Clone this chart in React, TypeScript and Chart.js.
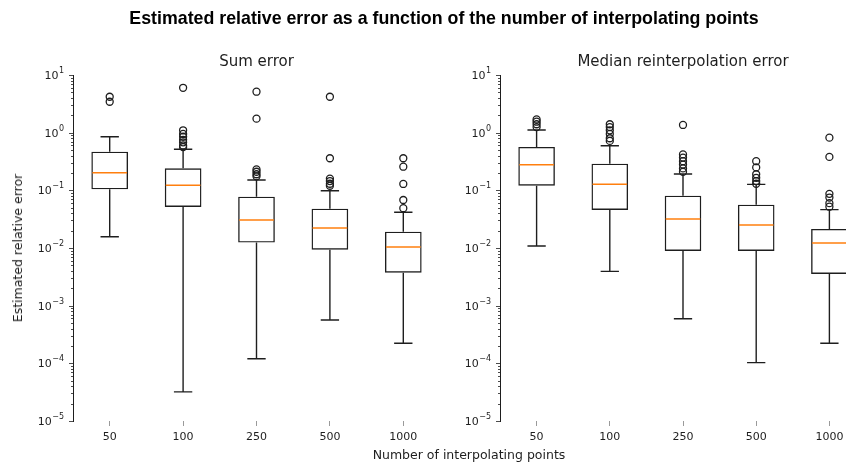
import React, { useEffect, useRef } from 'react';
import { Chart, registerables } from 'chart.js';

Chart.register(...registerables);

const categories = ['50', '100', '250', '500', '1000'];
const yTickValues = [1e-5, 1e-4, 1e-3, 1e-2, 1e-1, 1, 10];

// Panel 1: Sum error
const sumQ1 = [0.104, 0.0514, 0.0124, 0.00935, 0.00373];
const sumMedian = [0.202, 0.122, 0.0306, 0.0222, 0.0104];
const sumQ3 = [0.468, 0.241, 0.0776, 0.0481, 0.0192];
const sumWhiskerLow = [0.0157, 3.2e-5, 1.2e-4, 5.65e-4, 2.23e-4];
const sumWhiskerHigh = [0.851, 0.515, 0.151, 0.0986, 0.0416];
const sumFliers50 = [4.2, 3.44];
const sumFliers100 = [6.0, 1.1, 0.95, 0.85, 0.75, 0.68, 0.6, 0.56];
const sumFliers250 = [5.13, 1.75, 0.23, 0.21, 0.19, 0.175];
const sumFliers500 = [4.2, 0.36, 0.16, 0.145, 0.13, 0.12];
const sumFliers1000 = [0.36, 0.257, 0.129, 0.068, 0.049];

// Panel 2: Median reinterpolation error
const medQ1 = [0.12, 0.0456, 0.00887, 0.00887, 0.00354];
const medMedian = [0.279, 0.127, 0.0318, 0.0251, 0.0122];
const medQ3 = [0.565, 0.29, 0.0807, 0.0564, 0.0214];
const medWhiskerLow = [0.0108, 0.00394, 5.94e-4, 1.03e-4, 2.23e-4];
const medWhiskerHigh = [1.11, 0.594, 0.192, 0.127, 0.0462];
const medFliers50 = [1.7, 1.55, 1.4, 1.25];
const medFliers100 = [1.4, 1.25, 1.1, 0.95, 0.8, 0.72];
const medFliers250 = [1.36, 0.42, 0.37, 0.32, 0.28, 0.24, 0.21];
const medFliers500 = [0.32, 0.25, 0.19, 0.165, 0.145, 0.13];
const medFliers1000 = [0.82, 0.38, 0.087, 0.075, 0.06, 0.052];

const FONT = "'DejaVu Sans', sans-serif";
const INK = '#1e1e1e';

const boxPlugin = {
  id: 'boxWhiskers',
  afterDatasetsDraw(chart: any, _args: any, opts: any) {
    const { ctx, scales, chartArea } = chart;
    const x = scales.x;
    const y = scales.y;
    const meta = chart.getDatasetMeta(0);
    ctx.save();
    // y minor/major tick marks
    ctx.strokeStyle = INK;
    ctx.lineWidth = 0.8;
    for (let d = -5; d <= 1; d++) {
      for (let k = 1; k <= 9; k++) {
        const v = k * Math.pow(10, d);
        if (v > 10.0001) break;
        const py = Math.round(y.getPixelForValue(v)) + 0.5;
        const len = k === 1 ? 4 : 2;
        ctx.beginPath();
        ctx.moveTo(chartArea.left - len, py);
        ctx.lineTo(chartArea.left, py);
        ctx.stroke();
      }
    }
    // y tick labels as 10 with superscript exponent
    ctx.fillStyle = INK;
    ctx.textBaseline = 'middle';
    yTickValues.forEach((v) => {
      const e = String(Math.round(Math.log10(v))).replace('-', '\u2212');
      const py = y.getPixelForValue(v) + 1;
      const right = chartArea.left - 9;
      ctx.font = `8px ${FONT}`;
      const ew = ctx.measureText(e).width;
      ctx.textAlign = 'right';
      ctx.fillText(e, right, py - 5);
      ctx.font = `11px ${FONT}`;
      ctx.fillText('10', right - ew - 0.5, py);
    });
    // whiskers, caps, medians
    opts.q1.forEach((q1: number, i: number) => {
      const bar = meta.data[i];
      const cx = x.getPixelForValue(i);
      const half = bar.width / 2;
      const capHalf = half / 2;
      const yq1 = y.getPixelForValue(q1);
      const yq3 = y.getPixelForValue(opts.q3[i]);
      const ylo = y.getPixelForValue(opts.low[i]);
      const yhi = y.getPixelForValue(opts.high[i]);
      const ymed = y.getPixelForValue(opts.median[i]);
      ctx.strokeStyle = INK;
      ctx.lineWidth = 1.4;
      ctx.beginPath();
      ctx.moveTo(cx, yq3);
      ctx.lineTo(cx, yhi);
      ctx.moveTo(cx, yq1);
      ctx.lineTo(cx, ylo);
      ctx.moveTo(cx - capHalf, yhi);
      ctx.lineTo(cx + capHalf, yhi);
      ctx.moveTo(cx - capHalf, ylo);
      ctx.lineTo(cx + capHalf, ylo);
      ctx.stroke();
      ctx.strokeStyle = '#ff7f0e';
      ctx.lineWidth = 1.5;
      ctx.beginPath();
      ctx.moveTo(cx - half + 1, ymed);
      ctx.lineTo(cx + half - 1, ymed);
      ctx.stroke();
    });
    ctx.restore();
  },
};

type PanelProps = {
  left: number;
  width: number;
  yAxisWidth: number;
  q1: number[];
  median: number[];
  q3: number[];
  low: number[];
  high: number[];
  fliers: number[][];
};

function BoxPanel(p: PanelProps) {
  const ref = useRef<HTMLCanvasElement | null>(null);
  useEffect(() => {
    if (!ref.current) return;
    const flierPoints: { x: string; y: number }[] = [];
    p.fliers.forEach((arr, i) => arr.forEach((v) => flierPoints.push({ x: categories[i], y: v })));
    const chart = new Chart(ref.current, {
      type: 'bar',
      data: {
        labels: categories,
        datasets: [
          {
            type: 'bar',
            data: p.q1.map((v, i) => [v, p.q3[i]]) as any,
            backgroundColor: 'rgba(0,0,0,0)',
            borderColor: INK,
            borderWidth: 1.4,
            borderSkipped: false,
            barPercentage: 0.5,
            categoryPercentage: 1,
          } as any,
          {
            type: 'line',
            data: flierPoints as any,
            showLine: false,
            pointStyle: 'circle',
            pointRadius: 3.5,
            pointBorderWidth: 1.3,
            pointBorderColor: INK,
            pointBackgroundColor: 'rgba(0,0,0,0)',
            clip: false,
          } as any,
        ],
      },
      options: {
        responsive: false,
        animation: false,
        devicePixelRatio: 1,
        layout: { padding: { top: 75, right: 20, left: 0, bottom: 0 } },
        plugins: {
          legend: { display: false },
          tooltip: { enabled: false },
          title: { display: false },
          boxWhiskers: { q1: p.q1, q3: p.q3, median: p.median, low: p.low, high: p.high },
        } as any,
        scales: {
          x: {
            type: 'category',
            offset: true,
            grid: {
              display: true,
              offset: false,
              drawOnChartArea: false,
              drawTicks: true,
              tickLength: 5,
              tickColor: '#9a9a9a',
              tickWidth: 1,
              color: '#9a9a9a',
            },
            border: { display: false },
            ticks: { font: { size: 11, family: FONT }, color: INK, padding: 5 },
            afterFit: (s: any) => {
              s.height = 44;
            },
          },
          y: {
            type: 'logarithmic',
            min: 1e-5,
            max: 10,
            afterBuildTicks: (s: any) => {
              s.ticks = yTickValues.map((v) => ({ value: v }));
            },
            grid: { display: false, drawTicks: false },
            border: { display: true, color: INK, width: 1 },
            ticks: { display: false },
            afterFit: (s: any) => {
              s.width = p.yAxisWidth;
            },
          },
        } as any,
      },
      plugins: [boxPlugin],
    });
    return () => chart.destroy();
  }, []);
  return (
    <canvas
      ref={ref}
      width={p.width}
      height={465}
      style={{ position: 'absolute', left: p.left, top: 0, width: p.width, height: 465, display: 'block' }}
    />
  );
}

export default function App() {
  const text: React.CSSProperties = { position: 'absolute', color: INK, fontFamily: FONT, whiteSpace: 'nowrap' };
  return (
    <div style={{ position: 'fixed', left: 0, top: 0, width: 846, height: 465, overflow: 'hidden', background: '#fff' }}>
      <BoxPanel
        left={0}
        width={460}
        yAxisWidth={73}
        q1={sumQ1}
        median={sumMedian}
        q3={sumQ3}
        low={sumWhiskerLow}
        high={sumWhiskerHigh}
        fliers={[sumFliers50, sumFliers100, sumFliers250, sumFliers500, sumFliers1000]}
      />
      <BoxPanel
        left={440}
        width={446}
        yAxisWidth={60}
        q1={medQ1}
        median={medMedian}
        q3={medQ3}
        low={medWhiskerLow}
        high={medWhiskerHigh}
        fliers={[medFliers50, medFliers100, medFliers250, medFliers500, medFliers1000]}
      />
      <div
        style={{
          ...text,
          left: 44,
          width: 800,
          top: 8,
          lineHeight: '20px',
          textAlign: 'center',
          fontFamily: "'Liberation Sans', Arial, sans-serif",
          fontWeight: 'bold',
          fontSize: 17.8,
          color: '#000',
        }}
      >
        Estimated relative error as a function of the number of interpolating points
      </div>
      <div style={{ ...text, left: 106.5, width: 300, top: 52, lineHeight: '18px', textAlign: 'center', fontSize: 15 }}>
        Sum error
      </div>
      <div style={{ ...text, left: 533, width: 300, top: 52, lineHeight: '18px', textAlign: 'center', fontSize: 15 }}>
        Median reinterpolation error
      </div>
      <div style={{ ...text, left: 269, width: 400, top: 447, lineHeight: '16px', textAlign: 'center', fontSize: 12.5 }}>
        Number of interpolating points
      </div>
      <div
        style={{
          ...text,
          left: 18,
          top: 248,
          fontSize: 12.5,
          lineHeight: '16px',
          transform: 'translate(-50%, -50%) rotate(-90deg)',
        }}
      >
        Estimated relative error
      </div>
    </div>
  );
}
